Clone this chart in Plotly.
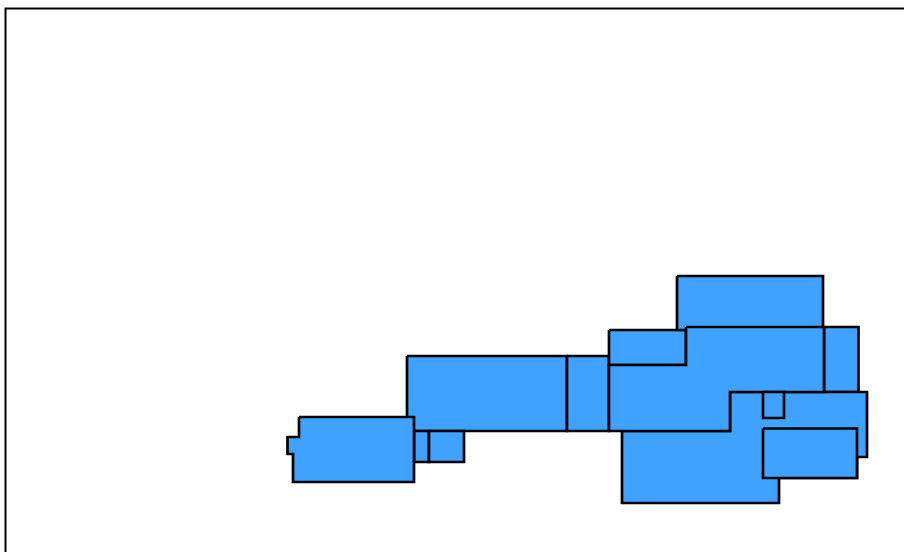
import plotly.graph_objects as go

region_names = ["B", "C", "D", "E", "A", "G", "F", "I", "J", "H", "K", "L"]
region_x = [
    [407, 567, 567, 407],
    [567, 609, 609, 567],
    [414, 429, 429, 414],
    [429, 464, 464, 429],
    [299, 414, 414, 293, 293, 287.5, 287.5, 299],
    [609, 686, 686, 609],
    [677, 823, 823, 677],
    [824, 858.5, 858.5, 824],
    [622, 730, 730, 867, 867, 857, 857, 779, 779, 622],
    [686, 824, 824, 730, 730, 609, 609, 686],
    [763, 784, 784, 763],
    [763, 857, 857, 763],
]
region_y = [
    [356, 356, 431, 431],
    [356, 356, 431, 431],
    [431, 431, 462, 462],
    [431, 431, 462, 462],
    [417, 417, 482, 482, 454, 454, 437, 437],
    [330, 330, 365, 365],
    [276, 276, 330, 330],
    [327, 327, 392, 392],
    [431, 431, 392, 392, 457, 457, 478, 478, 503, 503],
    [327, 327, 392, 392, 431, 431, 365, 365],
    [392, 392, 418, 418],
    [428.5, 428.5, 478, 478],
]

FILL = "#3fa2ff"
fig = go.Figure()
for name, xs, ys in zip(region_names, region_x, region_y):
    fig.add_trace(go.Scatter(
        x=xs + xs[:1], y=ys + ys[:1], name=name, mode="lines", fill="toself",
        fillcolor=FILL, line=dict(color="black", width=2.7), hoverinfo="skip",
    ))

fig.update_layout(
    width=904, height=552, showlegend=False, autosize=False,
    paper_bgcolor="white", plot_bgcolor="white",
    margin=dict(l=0, r=0, t=0, b=0),
    xaxis=dict(range=[0, 904], visible=False, fixedrange=True),
    yaxis=dict(range=[552, 0], visible=False, fixedrange=True),
    shapes=[
        dict(type="rect", xref="paper", yref="paper", x0=5.5 / 904, x1=1.2, y0=-0.2, y1=1 - 8.5 / 552,
             line=dict(color="black", width=2), layer="below"),
    ],
)
fig.write_html(
    "out.html",
    config={"displayModeBar": False},
    post_script="document.body.style.margin='0';document.documentElement.style.overflow='hidden';",
)
